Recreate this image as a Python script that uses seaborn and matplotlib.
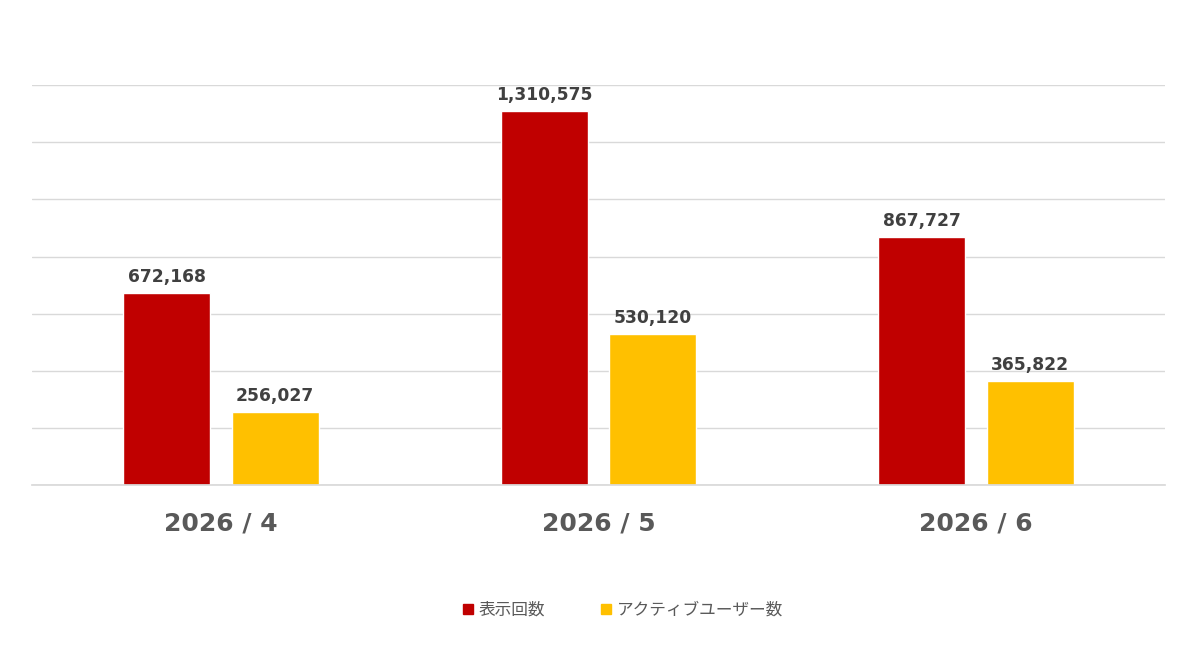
import matplotlib
matplotlib.use('Agg')
import matplotlib.pyplot as plt
from matplotlib.lines import Line2D
import pandas as pd
import seaborn as sns

months = ['2026 / 4', '2026 / 5', '2026 / 6']
series = ['表示回数', 'アクティブユーザー数']
views = [672168, 1310575, 867727]
users = [256027, 530120, 365822]
colors = ['#C00000', '#FFC000']

df = pd.DataFrame({
    'month': months * 2,
    'series': [series[0]] * 3 + [series[1]] * 3,
    'value': views + users,
})

sns.set_theme(style='white')
plt.rcParams['font.family'] = ['DejaVu Sans', 'Noto Sans CJK JP']

fig = plt.figure(figsize=(12, 6.45), dpi=100)
ax = fig.add_axes([0.0267, 0.248, 0.944, 0.620])

sns.barplot(data=df, x='month', y='value', hue='series', palette=colors,
            width=0.575, gap=0.2, ax=ax, legend=False, saturation=1)

ax.set_ylim(0, 1400000)
ax.set_xlim(-0.5, 2.5)
ax.set_yticks(range(0, 1400001, 200000))
ax.yaxis.grid(True, color='#D9D9D9', linewidth=1)
ax.set_axisbelow(True)
ax.tick_params(axis='y', left=False, labelleft=False)
ax.tick_params(axis='x', bottom=False, pad=13, labelsize=18, labelcolor='#595959')
for lab in ax.get_xticklabels():
    lab.set_fontweight('bold')
ax.set_xlabel('')
ax.set_ylabel('')
for side in ['top', 'left', 'right']:
    ax.spines[side].set_visible(False)
ax.spines['bottom'].set_color('#D9D9D9')

for cont in ax.containers:
    ax.bar_label(cont, labels=[f'{v:,.0f}' for v in cont.datavalues], padding=5,
                 fontsize=12.3, fontweight='bold', color='#404040')

handles = [Line2D([0], [0], marker='s', linestyle='', markersize=6.5,
                  markerfacecolor=c, markeredgecolor=c) for c in colors]
fig.legend(handles, series, loc='center', bbox_to_anchor=(0.519, 0.054), ncol=2,
           frameon=False, labelcolor='#595959', handlelength=0.6, handletextpad=0.35,
           columnspacing=3.35, prop={'family': ['Noto Sans CJK JP', 'DejaVu Sans'], 'size': 12})

fig.savefig('out.png', dpi=100, facecolor='white')
